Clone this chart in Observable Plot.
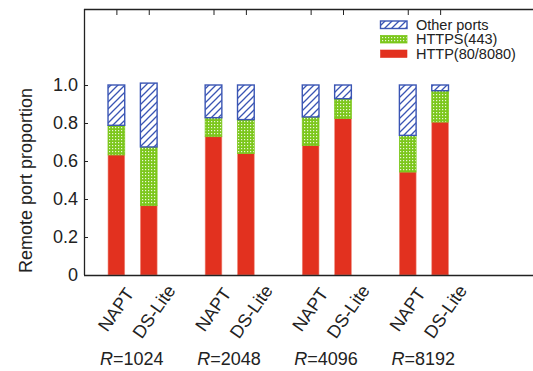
<!DOCTYPE html>
<html>
<head>
<meta charset="utf-8">
<script src="https://cdn.jsdelivr.net/npm/d3@7"></script>
<script src="https://cdn.jsdelivr.net/npm/@observablehq/plot@0.6"></script>
<style>
  html, body { margin: 0; padding: 0; background: #fff; }
  #chart { width: 533px; height: 371px; overflow: hidden; }
</style>
</head>
<body>
<div id="chart"></div>
<script>
// ---- data ----
const groups = ["1024", "2048", "4096", "8192"];
const methods = ["NAPT", "DS-Lite"];
const seriesNames = ["HTTP(80/8080)", "HTTPS(443)", "Other ports"];
// per bar, order: 1024 NAPT, 1024 DS-Lite, 2048 NAPT, 2048 DS-Lite, ...
const httpShare  = [0.632, 0.365, 0.728, 0.639, 0.681, 0.823, 0.542, 0.805];
const httpsShare = [0.156, 0.309, 0.100, 0.179, 0.151, 0.105, 0.193, 0.165];
const otherShare = [0.212, 0.336, 0.172, 0.182, 0.168, 0.072, 0.265, 0.030];
const yTicks = [0, 0.2, 0.4, 0.6, 0.8, 1.0];

// ---- table ----
const bars = [];
groups.forEach((g, gi) => methods.forEach((m, mi) => {
  const i = gi * 2 + mi;
  bars.push({group: g, method: m, slot: gi * 3 + mi,
             http: httpShare[i], https: httpsShare[i], other: otherShare[i]});
}));
const segs = [];
for (const b of bars) {
  const vals = [b.http, b.https, b.other];
  let acc = 0;
  vals.forEach((v, k) => { segs.push({series: seriesNames[k], slot: b.slot, y1: acc, y2: acc + v}); acc += v; });
}
const groupRows = groups.map((g, gi) => ({label: g, slot: gi * 3 + 0.5}));
const half = 0.258;

const RED = "#e2311f", GREEN = "#7cc71c", BLUE = "#3a55b4";
const FONT = "Liberation Sans, Arial, Helvetica, sans-serif";
const FS = 18;

const chart = Plot.plot({
  width: 533,
  height: 371,
  marginLeft: 84,
  marginRight: 0,
  marginTop: 9,
  marginBottom: 96,
  style: {fontFamily: FONT, fontSize: FS + "px", color: "#222", background: "#fff"},
  x: {type: "linear", domain: [-1, (533 - 116.7) / 32.35], axis: null},
  y: {domain: [0, 1.4], axis: null},
  marks: [
    Plot.rectY(segs.filter(d => d.series === seriesNames[0]),
      {x1: d => d.slot - half, x2: d => d.slot + half, y1: "y1", y2: "y2", fill: RED, stroke: "#ef8a7c", strokeWidth: 0.6}),
    Plot.rectY(segs.filter(d => d.series === seriesNames[1]),
      {x1: d => d.slot - half, x2: d => d.slot + half, y1: "y1", y2: "y2", fill: "url(#dots)", stroke: GREEN, strokeWidth: 0.8}),
    Plot.rectY(segs.filter(d => d.series === seriesNames[2]),
      {x1: d => d.slot - half, x2: d => d.slot + half, y1: "y1", y2: "y2", fill: "url(#hatch)", stroke: BLUE, strokeWidth: 1.4}),
    // frame (left, bottom, top)
    Plot.ruleX([-1], {stroke: "#222", strokeWidth: 1.3}),
    Plot.ruleY([0], {stroke: "#222", strokeWidth: 1.3}),
    Plot.ruleY([1.4], {stroke: "#222", strokeWidth: 1.3}),
    // y axis labels and inward ticks
    Plot.axisY(yTicks, {anchor: "left", tickSize: 0, tickPadding: 6.5, fontSize: FS, label: null,
      tickFormat: d => d === 0 ? "0" : d.toFixed(1)}),
    Plot.axisY(yTicks, {anchor: "left", tickSize: 4, dx: 4, text: null, label: null, stroke: "#222"}),
    // top inward ticks at bar positions
    Plot.axisX(bars.map(b => b.slot), {anchor: "top", tickSize: 5, dy: 5, text: null, label: null, stroke: "#222"}),
    // rotated method labels
    Plot.text(bars.filter(b => b.method === methods[0]), {x: "slot", text: "method", frameAnchor: "bottom", rotate: -55,
      textAnchor: "end", lineAnchor: "bottom", dx: 18, dy: 18, fontSize: FS, fill: "#222"}),
    Plot.text(bars.filter(b => b.method === methods[1]), {x: "slot", text: "method", frameAnchor: "bottom", rotate: -55,
      textAnchor: "end", lineAnchor: "bottom", dx: 27, dy: 15, fontSize: FS, fill: "#222"}),
    // group labels
    Plot.text(groupRows, {x: "slot", text: d => "=" + d.label, frameAnchor: "bottom",
      textAnchor: "start", lineAnchor: "bottom", dx: -20, dy: 89, fontSize: FS, fill: "#222"}),
    Plot.text(groupRows, {x: "slot", text: () => "R", frameAnchor: "bottom",
      textAnchor: "end", lineAnchor: "bottom", dx: -20, dy: 89, fontSize: FS, fontStyle: "italic", fill: "#222"}),
    // y label
    Plot.text([0.5], {y: d => d, text: () => "Remote port proportion", frameAnchor: "left",
      rotate: -90, textAnchor: "middle", lineAnchor: "bottom", dx: -53, fontSize: FS, fill: "#222"})
  ]
});

// patterns
const svg = d3.select(chart);
const defs = svg.insert("defs", ":first-child");
const hatch = defs.append("pattern").attr("id", "hatch").attr("patternUnits", "userSpaceOnUse")
  .attr("width", 7).attr("height", 7);
hatch.append("rect").attr("width", 7).attr("height", 7).attr("fill", "#fff");
hatch.append("path").attr("d", "M-1,8 L8,-1 M-1,1 L1,-1 M6,8 L8,6")
  .attr("stroke", BLUE).attr("stroke-width", 1.3).attr("fill", "none");
const dots = defs.append("pattern").attr("id", "dots").attr("patternUnits", "userSpaceOnUse")
  .attr("width", 3).attr("height", 3);
dots.append("rect").attr("width", 3).attr("height", 3).attr("fill", GREEN);
dots.append("rect").attr("x", 1).attr("y", 1).attr("width", 1.2).attr("height", 1.2).attr("fill", "#eaf6d8");

// legend (inside plot, top right)
const legendItems = [
  {name: seriesNames[2], fill: "url(#hatch)", stroke: BLUE, sw: 1.4},
  {name: seriesNames[1], fill: "url(#dots)", stroke: GREEN, sw: 0.8},
  {name: seriesNames[0], fill: RED, stroke: RED, sw: 0.6}
];
const lg = svg.append("g").attr("font-family", FONT).attr("font-size", 14.5)
  .attr("fill", "#222").attr("text-anchor", "start");
legendItems.forEach((it, i) => {
  const y0 = 21 + i * 14.5;
  lg.append("rect").attr("x", 380.5).attr("y", y0).attr("width", 26.5).attr("height", 7.5)
    .attr("fill", it.fill).attr("stroke", it.stroke).attr("stroke-width", it.sw);
  lg.append("text").attr("x", 416).attr("y", y0 + 8.5).attr("text-anchor", "start").text(it.name);
});

document.getElementById("chart").appendChild(chart);
</script>
</body>
</html>
